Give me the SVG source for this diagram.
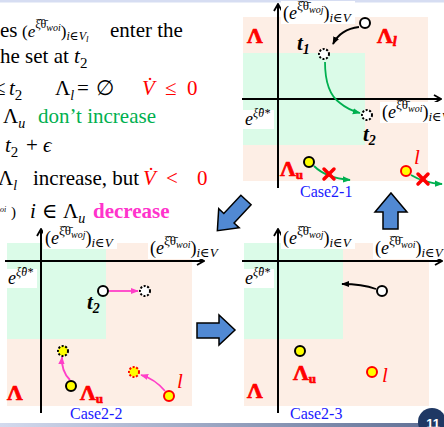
<svg xmlns="http://www.w3.org/2000/svg" width="444" height="427" viewBox="0 0 444 427">
<style>
.peach{fill:#fdeee5}
.green{fill:#dbfbe8}
.ax{stroke:#000;stroke-width:2;fill:none;marker-end:url(#axh)}
.lbl{font-family:"Liberation Serif","DejaVu Serif",serif;font-size:18px}
.txt{font-family:"Liberation Serif","DejaVu Serif",serif;font-size:21px}
.red{fill:#f00}
.grn{fill:#00b050}
.mag{fill:#ff33cc;font-weight:bold}
.lam{font-family:"Liberation Serif","DejaVu Serif",serif;font-weight:bold;font-size:22px;fill:#f00;stroke:#f00;stroke-width:0.7}
.case{font-family:"Liberation Serif","DejaVu Serif",serif;font-size:16px;fill:#1a1aff}
.t{font-family:"Liberation Serif","DejaVu Serif",serif;font-weight:bold;font-style:italic;font-size:21px;fill:#000}
.ll{font-family:"Liberation Serif","DejaVu Serif",serif;font-style:italic;font-size:21px;fill:#f00}
.circ{fill:#fff;stroke:#000;stroke-width:2}
.dot{fill:#fff;stroke:#000;stroke-width:2;stroke-dasharray:2 1.6}
.yel{fill:#ffff00;stroke:#000;stroke-width:2}
.yelr{fill:#ffff00;stroke:#f00;stroke-width:2}
.yeld{fill:#ffff00;stroke:#000;stroke-width:2;stroke-dasharray:2 1.6}
.yeldr{fill:#ffff00;stroke:#f00;stroke-width:2;stroke-dasharray:2 1.6}
.xr{stroke:#f00;stroke-width:3.5;stroke-linecap:round}
.blk{fill:#5189d3;stroke:#000;stroke-width:1.5}
.ck{stroke:#000;stroke-width:1.8;fill:none;marker-end:url(#ahk)}
.cg{stroke:#00b050;stroke-width:1.8;fill:none;marker-end:url(#ahg)}
.cp{stroke:#ff3fc8;stroke-width:1.8;fill:none;marker-end:url(#ahp)}
</style>
<defs>
<linearGradient id="barg" x1="0" x2="1" y1="0" y2="0"><stop offset="0" stop-color="#d3daee"/><stop offset="1" stop-color="#5d6d93"/></linearGradient>
<marker id="axh" viewBox="0 0 10 10" refX="9" refY="5" markerWidth="10" markerHeight="10" markerUnits="userSpaceOnUse" orient="auto"><path d="M2,1 L9,5 L2,9" fill="none" stroke="#000" stroke-width="1.8"/></marker>
<marker id="ahk" viewBox="0 0 10 10" refX="9" refY="5" markerWidth="8" markerHeight="8" markerUnits="userSpaceOnUse" orient="auto"><path d="M0,1 L10,5 L0,9 z" fill="#000"/></marker>
<marker id="ahg" viewBox="0 0 10 10" refX="9" refY="5" markerWidth="8" markerHeight="8" markerUnits="userSpaceOnUse" orient="auto"><path d="M0,1 L10,5 L0,9 z" fill="#00b050"/></marker>
<marker id="ahp" viewBox="0 0 10 10" refX="9" refY="5" markerWidth="8" markerHeight="8" markerUnits="userSpaceOnUse" orient="auto"><path d="M0,1 L10,5 L0,9 z" fill="#ff3fc8"/></marker>
<g id="labwoj"><rect x="-2" y="-18" width="74" height="23" fill="#fff"/><text class="lbl" x="0" y="0">(<tspan font-style="italic">e</tspan><tspan dy="-9" font-size="13">ξ̂θ̄</tspan><tspan dy="3" font-size="10" font-style="italic">woj</tspan><tspan dy="6">)</tspan><tspan dy="3" font-size="13" font-style="italic">i∈V</tspan></text></g>
<g id="labwoi"><rect x="-2" y="-16" width="72" height="21" fill="#fff"/><text class="lbl" x="0" y="0">(<tspan font-style="italic">e</tspan><tspan dy="-9" font-size="13">ξ̂θ̄</tspan><tspan dy="3" font-size="10" font-style="italic">woi</tspan><tspan dy="6">)</tspan><tspan dy="3" font-size="13" font-style="italic">i∈V</tspan></text></g>
<g id="labe"><rect x="-2" y="-15" width="31" height="19" fill="#fff"/><text class="lbl" x="0" y="0" font-style="italic">e<tspan dy="-8" font-size="12">ξ̂θ*</tspan></text></g>
</defs>

<rect x="0" y="0" width="444" height="427" fill="#fff"/>
<rect x="0" y="0" width="444" height="2.5" fill="#d6ddf2"/>
<rect x="0" y="423" width="444" height="4" fill="url(#barg)"/>

<g id="text-block">
<text class="txt" x="0" y="37">es</text>
<text class="lbl" x="22" y="37" style="font-size:17px">(<tspan font-style="italic">e</tspan><tspan dy="-9" font-size="12">ξ̂θ̄</tspan><tspan dy="3" font-size="10" font-style="italic">woi</tspan><tspan dy="6">)</tspan><tspan dy="3" font-size="12" font-style="italic">i∈V</tspan><tspan dy="2" font-size="9" font-style="italic">l</tspan></text>
<text class="txt" x="110" y="37">enter the</text>
<text class="txt" x="0" y="63">he set at <tspan font-style="italic">t</tspan><tspan dy="5" font-size="15">2</tspan></text>
<text class="txt" x="-6" y="95">≤</text>
<text class="txt" x="9" y="95" font-style="italic">t<tspan dy="5" font-size="15" font-style="normal">2</tspan></text>
<text class="txt" x="55" y="95">Λ<tspan dy="5" font-size="14" font-style="italic">l</tspan></text>
<text class="txt" x="77" y="95">=</text>
<text class="txt" x="96" y="95">∅</text>
<text class="txt red" x="142" y="95" font-style="italic">V̇</text>
<text class="txt red" x="165" y="95">≤</text>
<text class="txt red" x="187" y="95">0</text>
<text class="txt" x="3" y="123">Λ<tspan dy="5" font-size="14" font-style="italic">u</tspan></text>
<text class="txt grn" x="38" y="123">don’t increase</text>
<text class="txt" x="5" y="152" font-style="italic">t<tspan dy="5" font-size="15" font-style="normal">2</tspan></text>
<text class="txt" x="26" y="152">+</text>
<text class="txt" x="43" y="152" font-style="italic">ϵ</text>
<text class="txt" x="-2" y="185">Λ<tspan dy="5" font-size="14" font-style="italic">l</tspan></text>
<text class="txt" x="33" y="185">increase, but</text>
<text class="txt red" x="143" y="185" font-style="italic">V̇</text>
<text class="txt red" x="166" y="185">&lt;</text>
<text class="txt red" x="197" y="185">0</text>
<text class="lbl" x="0" y="212" style="font-size:8px;font-style:italic">oi</text>
<text class="lbl" x="11" y="217" style="font-size:15px">)</text>
<text class="txt" x="30" y="218" font-style="italic">i</text>
<text class="txt" x="42" y="218">∈</text>
<text class="txt" x="63" y="218">Λ<tspan dy="5" font-size="14" font-style="italic">u</tspan></text>
<text class="txt mag" x="93" y="218">decrease</text>
</g>

<g id="panel-case2-1">
<rect class="peach" x="243" y="17" width="185" height="164"/>
<rect class="green" x="243" y="53" width="122" height="92"/>
<line class="ax" x1="278" y1="188" x2="278" y2="4"/>
<line class="ax" x1="242" y1="99" x2="441" y2="99"/>
<use href="#labwoj" x="283" y="19"/>
<use href="#labwoi" x="382" y="118"/>
<use href="#labe" x="245" y="125"/>
<text class="lam" x="247" y="43">Λ</text>
<text class="lam" x="377" y="43">Λ<tspan dy="3" font-size="14" font-style="italic">l</tspan></text>
<text class="lam" x="280" y="176">Λ<tspan dy="3" font-size="13">u</tspan></text>
<text class="t" x="297" y="50">t<tspan dy="4" font-size="14">1</tspan></text>
<text class="t" x="363" y="141">t<tspan dy="4" font-size="14">2</tspan></text>
<text class="ll" x="414" y="164">l</text>
<text class="case" x="300" y="197">Case2-1</text>
</g>

<g id="panel-case2-2">
<rect class="peach" x="7" y="243" width="185" height="163"/>
<rect class="green" x="7" y="243" width="99" height="96"/>
<line class="ax" x1="41" y1="413" x2="41" y2="229"/>
<line class="ax" x1="5" y1="261" x2="204" y2="261"/>
<use href="#labwoj" x="45" y="244"/>
<use href="#labwoi" x="150" y="254"/>
<use href="#labe" x="8" y="284"/>
<text class="t" x="87" y="309">t<tspan dy="4" font-size="14">2</tspan></text>
<text class="lam" x="7" y="400">Λ</text>
<text class="lam" x="80" y="400">Λ<tspan dy="3" font-size="13">u</tspan></text>
<text class="ll" x="177" y="388">l</text>
<text class="case" x="70" y="419">Case2-2</text>
</g>

<g id="panel-case2-3">
<rect class="peach" x="244" y="243" width="185" height="163"/>
<rect class="green" x="244" y="243" width="99" height="96"/>
<line class="ax" x1="278" y1="413" x2="278" y2="229"/>
<line class="ax" x1="242" y1="261" x2="442" y2="261"/>
<use href="#labwoj" x="283" y="244"/>
<use href="#labwoi" x="375" y="254"/>
<use href="#labe" x="245" y="284"/>
<text class="lam" x="247" y="398">Λ</text>
<text class="lam" x="293" y="380">Λ<tspan dy="3" font-size="13">u</tspan></text>
<text class="ll" x="382" y="382">l</text>
<text class="case" x="290" y="419">Case2-3</text>
</g>

<g id="connectors">
<path class="ck" d="M359 27 C350 28 339 32 333 44"/>
<path class="cg" d="M325 62 C325 82 330 96 340 103 C346 108 352 111 360 113"/>
<path class="cg" d="M314 166 Q326 178 350 180"/>
<path class="cg" d="M411 175 Q424 183 442 184"/>
<path class="cp" d="M109 291 L138 291"/>
<path class="cp" d="M70 380 Q61 371 62 357"/>
<path class="cp" d="M165 391 Q155 379 141 375"/>
<path class="ck" d="M376 289 Q362 284 342 284"/>
<line class="xr" x1="324" y1="169" x2="334" y2="179"/>
<line class="xr" x1="334" y1="169" x2="324" y2="179"/>
<line class="xr" x1="418" y1="174" x2="428" y2="184"/>
<line class="xr" x1="428" y1="174" x2="418" y2="184"/>
</g>

<g id="node-c1-start"><circle class="circ" cx="365" cy="23" r="5"/></g>
<g id="node-c1-t1"><circle class="dot" cx="324" cy="54" r="5"/></g>
<g id="node-c1-t2"><circle class="dot" cx="367" cy="115" r="5"/></g>
<g id="node-c1-u"><circle class="yel" cx="309" cy="162" r="5"/></g>
<g id="node-c1-l"><circle class="yelr" cx="406" cy="171" r="5"/></g>
<g id="node-c2-t2"><circle class="circ" cx="103" cy="291" r="5"/></g>
<g id="node-c2-t2e"><circle class="dot" cx="145" cy="291" r="5"/></g>
<g id="node-c2-ud"><circle class="yeld" cx="63" cy="351" r="5"/></g>
<g id="node-c2-u"><circle class="yel" cx="71" cy="386" r="5"/></g>
<g id="node-c2-ld"><circle class="yeldr" cx="134" cy="372" r="5"/></g>
<g id="node-c2-l"><circle class="yelr" cx="169" cy="396" r="5"/></g>
<g id="node-c3-o"><circle class="circ" cx="382" cy="291" r="5"/></g>
<g id="node-c3-u"><circle class="yel" cx="300" cy="351" r="5"/></g>
<g id="node-c3-l"><circle class="yelr" cx="372" cy="372" r="5"/></g>

<g id="block-arrows">
<polygon class="blk" points="391,193 407,212 398,212 398,229 383,229 383,212 375,212"/>
<polygon class="blk" points="197,323 219,323 219,315 235,330 219,345 219,338 197,338"/>
<polygon class="blk" transform="translate(246,200) rotate(133)" points="0,-7 25,-7 25,-14 42,0 25,14 25,7 0,7"/>
</g>

<g id="page-number">
<circle cx="432" cy="422" r="14" fill="#1f3864"/>
<text x="433" y="428" text-anchor="middle" font-family="Liberation Sans, Arial, sans-serif" font-weight="bold" font-size="13" fill="#fff">11</text>
</g>
</svg>
